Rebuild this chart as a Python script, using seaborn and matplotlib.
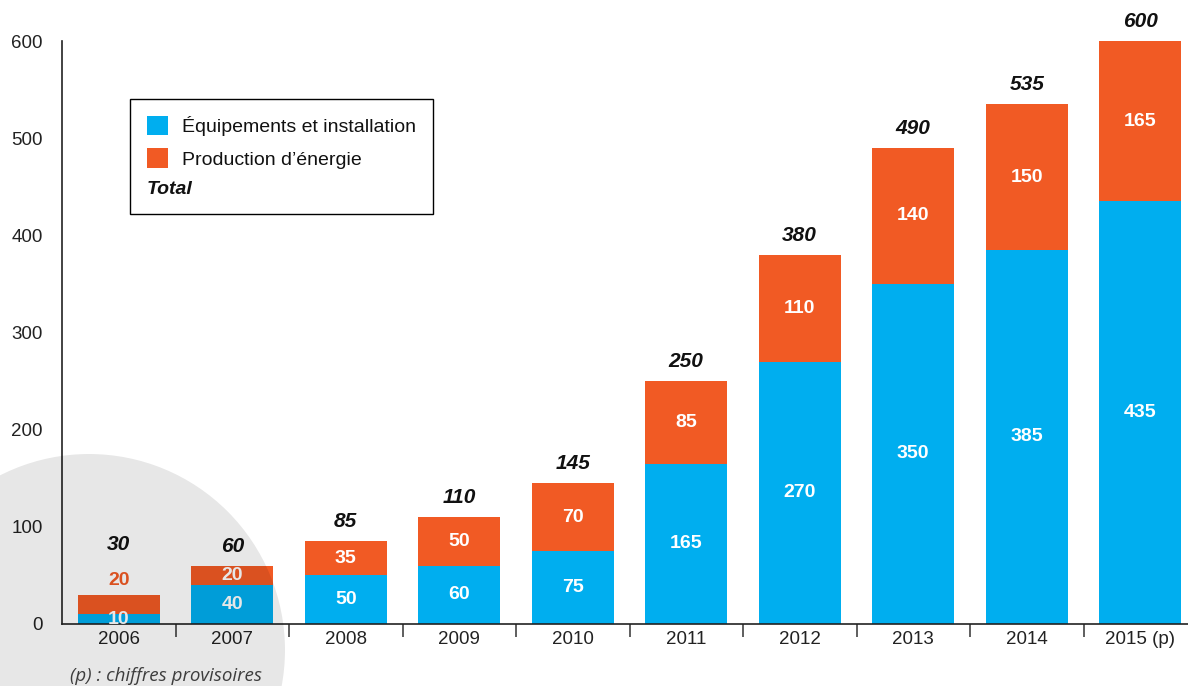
import matplotlib
matplotlib.use("Agg")
import matplotlib.pyplot as plt
import seaborn as sns
import pandas as pd
import numpy as np
from matplotlib.patches import Patch, Circle
from matplotlib.ticker import FixedLocator

# ---- data ----
years = ["2006", "2007", "2008", "2009", "2010", "2011", "2012", "2013", "2014", "2015 (p)"]
equipements = [10, 40, 50, 60, 75, 165, 270, 350, 385, 435]
production = [20, 20, 35, 50, 70, 85, 110, 140, 150, 165]
totals = [30, 60, 85, 110, 145, 250, 380, 490, 535, 600]
y_ticks = [0, 100, 200, 300, 400, 500, 600]
legend_labels = ["Équipements et installation", "Production d’énergie", "Total"]
note = "(p) : chiffres provisoires"

BLUE = "#00AEEF"
ORANGE = "#F15A24"

sns.set_theme(style="white")
plt.rcParams['font.family'] = ['Liberation Sans', 'DejaVu Sans']

W, H = 1188, 686
fig = plt.figure(figsize=(W / 100, H / 100), dpi=100)
fig.patch.set_facecolor("white")
ax = fig.add_axes([62 / W, (H - 624) / H, (1197 - 62) / W, (624 - 41) / H])
ax.set_facecolor("none")

df = pd.DataFrame({"annee": years, "equip": equipements, "prod": production, "total": totals})
sns.barplot(data=df, x="annee", y="total", order=years, color=ORANGE, saturation=1,
            width=0.72, errorbar=None, linewidth=0, ax=ax)
sns.barplot(data=df, x="annee", y="equip", order=years, color=BLUE, saturation=1,
            width=0.72, errorbar=None, linewidth=0, ax=ax)

lab_kw = dict(ha="center", va="center", fontsize=14, fontweight="bold")
tot_kw = dict(ha="center", va="center", fontsize=15, fontweight="bold", fontstyle="italic",
              color="#111111", textcoords="offset points")
for i, (e, p, t) in enumerate(zip(equipements, production, totals)):
    ax.text(i, e / 2, str(e), color="white", **lab_kw)
    if e < 20:
        ax.annotate(str(p), (i, t), xytext=(0, 10.5), textcoords="offset points",
                    color=ORANGE, **lab_kw)
        ax.annotate(str(t), (i, t), xytext=(0, 36), **tot_kw)
    else:
        ax.text(i, e + p / 2, str(p), color="white", **lab_kw)
        ax.annotate(str(t), (i, t), xytext=(0, 14), **tot_kw)

ax.set_xlim(-0.5, len(years) - 0.5)
ax.set_ylim(0, 600)
ax.set_yticks(y_ticks)
ax.set_xlabel("")
ax.set_ylabel("")
sns.despine(ax=ax)
for s in ("left", "bottom"):
    ax.spines[s].set_color("#222222")
    ax.spines[s].set_linewidth(1.2)

ax.xaxis.set_minor_locator(FixedLocator(np.arange(0.5, len(years) - 1, 1)))
ax.tick_params(axis="x", which="minor", bottom=True, length=9, width=1.1, color="#333333", direction="out")
ax.tick_params(axis="x", which="major", length=0, pad=5, labelsize=13.5, labelcolor="#222222")
ax.tick_params(axis="y", length=0, pad=14, labelsize=13.5, labelcolor="#222222")

# legend
handles = [Patch(facecolor=BLUE, edgecolor="none"),
           Patch(facecolor=ORANGE, edgecolor="none"),
           Patch(facecolor="none", edgecolor="none")]
leg = fig.legend(handles, legend_labels, loc="upper left",
                 bbox_to_anchor=(130 / W, 1 - 99 / H), bbox_transform=fig.transFigure,
                 frameon=True, fancybox=False, edgecolor="black", framealpha=1,
                 borderaxespad=0, fontsize=14, handlelength=1.1, handleheight=1.2,
                 handletextpad=0.75, labelspacing=0.62, borderpad=0.85)
leg.get_frame().set_linewidth(1.0)
for txt in leg.get_texts():
    txt.set_color("#111111")
tt = leg.get_texts()[2]
tt.set_fontweight("bold")
tt.set_fontstyle("italic")
try:
    col = leg._legend_handle_box.get_children()[0]
    item = col.get_children()[2]
    del item.get_children()[0]
except Exception:
    pass

fig.text(70 / W, 1 - 676 / H, note, family=["Open Sans", "DejaVu Sans"], style="italic",
         fontsize=13.5, color="#444444", ha="left", va="center")

# grey disc in the lower-left corner (multiply-like overlay)
fig.add_artist(Circle((0.89, 0.36), 1.96, transform=fig.dpi_scale_trans,
                      facecolor="black", alpha=0.095, edgecolor="none", zorder=10))

fig.savefig("out.png", dpi=100, facecolor="white")
